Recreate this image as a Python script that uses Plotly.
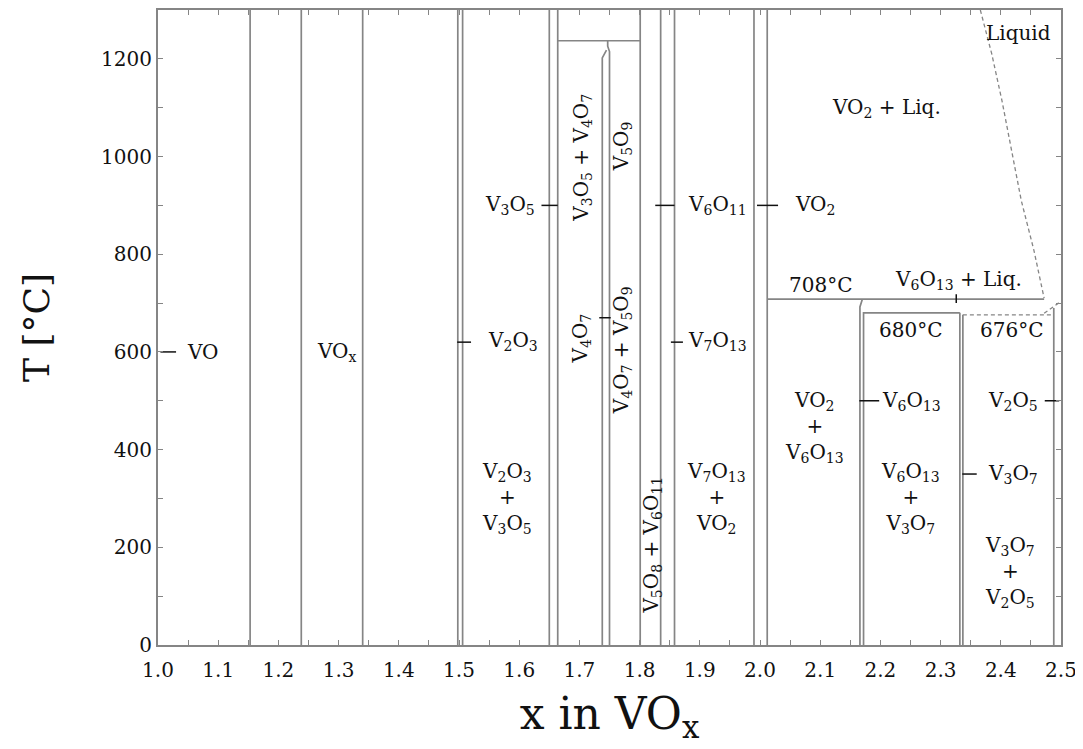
import plotly.graph_objects as go

# ---------------- data ----------------
T_MAX = 1300
X_MIN, X_MAX = 1.0, 2.5

# phase boundaries spanning the full temperature range (x in VOx)
full_boundaries_x = [1.153, 1.238, 1.340, 1.498, 1.506, 1.650, 1.664,
                     1.801, 1.835, 1.858, 1.990, 2.012]

# partial boundaries (x, T) polylines
v4o7_left_x = [1.738, 1.738, 1.745]
v4o7_left_T = [0, 1202, 1218]
v4o7_right_x = [1.750, 1.750, 1.747, 1.747]
v4o7_right_T = [0, 1215, 1226, 1237]
peritectic_x = [1.664, 1.801]
peritectic_T = [1237, 1237]
v6o13_left_x = [2.166, 2.166, 2.170]
v6o13_left_T = [0, 692, 708]
v6o13_right_x = [2.172, 2.172, 2.332]
v6o13_right_T = [0, 680, 680]
v3o7_left_x = [2.332, 2.332]
v3o7_left_T = [0, 680]
v3o7_right_x = [2.337, 2.337]
v3o7_right_T = [0, 676]
eutectic708_x = [2.012, 2.472]
eutectic708_T = [708, 708]
v2o5_x = [2.488, 2.488]
v2o5_T = [0, 690]

# dashed lines
eutectic676_x = [2.337, 2.488]
eutectic676_T = [676, 676]
liquidus_x = [2.366, 2.385, 2.402, 2.434, 2.455, 2.472]
liquidus_T = [1300, 1210, 1114, 910, 808, 710]
liquidus_low_x = [2.472, 2.497]
liquidus_low_T = [679, 701]

# pointer dashes for single-phase labels
pointer_x0 = [1.004, 1.637, 1.497, 1.733, 1.826, 1.852, 1.995, 2.165, 2.473, 2.336]
pointer_x1 = [1.030, 1.664, 1.520, 1.752, 1.858, 1.872, 2.030, 2.198, 2.497, 2.360]
pointer_T = [600, 900, 620, 670, 900, 620, 900, 500, 500, 350]
v6o13_mark_x = [2.326, 2.326]
v6o13_mark_T = [718, 700]

# labels
label_text = ["VO", "VO<sub>x</sub>", "V<sub>3</sub>O<sub>5</sub>", "V<sub>2</sub>O<sub>3</sub>",
              "V<sub>2</sub>O<sub>3</sub><br>+<br>V<sub>3</sub>O<sub>5</sub>",
              "V<sub>6</sub>O<sub>11</sub>", "V<sub>7</sub>O<sub>13</sub>",
              "V<sub>7</sub>O<sub>13</sub><br>+<br>VO<sub>2</sub>",
              "VO<sub>2</sub>", "VO<sub>2</sub> + Liq.", "Liquid", "708°C",
              "V<sub>6</sub>O<sub>13</sub> + Liq.", "680°C", "676°C",
              "VO<sub>2</sub><br>+<br>V<sub>6</sub>O<sub>13</sub>",
              "V<sub>6</sub>O<sub>13</sub>", "V<sub>2</sub>O<sub>5</sub>",
              "V<sub>6</sub>O<sub>13</sub><br>+<br>V<sub>3</sub>O<sub>7</sub>",
              "V<sub>3</sub>O<sub>7</sub>",
              "V<sub>3</sub>O<sub>7</sub><br>+<br>V<sub>2</sub>O<sub>5</sub>"]
label_x = [1.075, 1.297, 1.584, 1.590, 1.58, 1.929, 1.929, 1.927, 2.092, 2.21, 2.43, 2.10,
           2.33, 2.25, 2.418, 2.09, 2.252, 2.42, 2.25, 2.42, 2.415]
label_T = [600, 600, 900, 622, 300, 900, 622, 300, 900, 1100, 1252, 738,
           748, 644, 644, 446, 500, 500, 300, 350, 150]

rot_text = ["V<sub>3</sub>O<sub>5</sub> + V<sub>4</sub>O<sub>7</sub>", "V<sub>5</sub>O<sub>9</sub>",
            "V<sub>4</sub>O<sub>7</sub>", "V<sub>4</sub>O<sub>7</sub> + V<sub>5</sub>O<sub>9</sub>",
            "V<sub>5</sub>O<sub>8</sub> + V<sub>6</sub>O<sub>11</sub>"]
rot_x = [1.703, 1.770, 1.703, 1.772, 1.821]
rot_T = [998, 1020, 628, 603, 204]

x_tick_vals = [1.0, 1.1, 1.2, 1.3, 1.4, 1.5, 1.6, 1.7, 1.8, 1.9, 2.0, 2.1, 2.2, 2.3, 2.4, 2.5]
x_tick_text = ["1.0", "1.1", "1.2", "1.3", "1.4", "1.5", "1.6", "1.7", "1.8", "1.9",
               "2.0", "2.1", "2.2", "2.3", "2.4", "2.5"]
y_tick_vals = [0, 200, 400, 600, 800, 1000, 1200]

# ---------------- figure ----------------
GRAY = "#858585"
LINE = dict(color=GRAY, width=1.7)
DASH = dict(color=GRAY, width=1.3, dash="4px,3px")
INK = "#111111"
FONT = "DejaVu Serif"
LABEL_SIZE = 20

fig = go.Figure()

def add_line(xs, ts, style):
    fig.add_trace(go.Scatter(x=xs, y=ts, mode="lines", line=style,
                             hoverinfo="skip", showlegend=False))

for xb in full_boundaries_x:
    add_line([xb, xb], [0, T_MAX], LINE)

for xs, ts in [(v4o7_left_x, v4o7_left_T), (v4o7_right_x, v4o7_right_T),
               (peritectic_x, peritectic_T), (v6o13_left_x, v6o13_left_T),
               (v6o13_right_x, v6o13_right_T), (v3o7_left_x, v3o7_left_T),
               (v3o7_right_x, v3o7_right_T), (eutectic708_x, eutectic708_T),
               (v2o5_x, v2o5_T)]:
    add_line(xs, ts, LINE)

for xs, ts in [(eutectic676_x, eutectic676_T), (liquidus_x, liquidus_T),
               (liquidus_low_x, liquidus_low_T)]:
    add_line(xs, ts, DASH)

PTR = dict(color=INK, width=1.5)
for a, b, t in zip(pointer_x0, pointer_x1, pointer_T):
    add_line([a, b], [t, t], PTR)
add_line(v6o13_mark_x, v6o13_mark_T, PTR)

for txt, x, t in zip(label_text, label_x, label_T):
    fig.add_annotation(x=x, y=t, text=txt, showarrow=False,
                       font=dict(family=FONT, size=LABEL_SIZE, color=INK))
for txt, x, t in zip(rot_text, rot_x, rot_T):
    fig.add_annotation(x=x, y=t, text=txt, showarrow=False, textangle=-90,
                       font=dict(family=FONT, size=LABEL_SIZE, color=INK))

axis_common = dict(showgrid=False, zeroline=False, showline=True, linecolor=GRAY,
                   linewidth=2, mirror="ticks", ticks="inside", ticklen=5,
                   tickcolor=GRAY, tickwidth=1.2, automargin=False,
                   tickfont=dict(family=FONT, size=20, color=INK))

fig.update_xaxes(range=[X_MIN, X_MAX], tickvals=x_tick_vals, ticktext=x_tick_text,
                 ticklabelstandoff=6,
                 minor=dict(dtick=0.05, tick0=1.0, ticks="inside", ticklen=5,
                            tickcolor=GRAY),
                 title=dict(text="x in VO<sub>x</sub>", font=dict(family=FONT, size=44, color=INK),
                            standoff=17),
                 **axis_common)
fig.update_yaxes(range=[0, T_MAX], tickvals=y_tick_vals,
                 minor=dict(dtick=100, tick0=0, ticks="inside", ticklen=5,
                            tickcolor=GRAY),
                 title=dict(text="T [°C]", font=dict(family=FONT, size=36, color=INK),
                            standoff=40),
                 **axis_common)

# the page body adds an 8 px margin, so the figure is drawn 8 px smaller
fig.update_layout(width=1075, height=741, plot_bgcolor="white", paper_bgcolor="white",
                  margin=dict(l=150, r=22, t=2, b=104))

fig.write_html("out.html")
